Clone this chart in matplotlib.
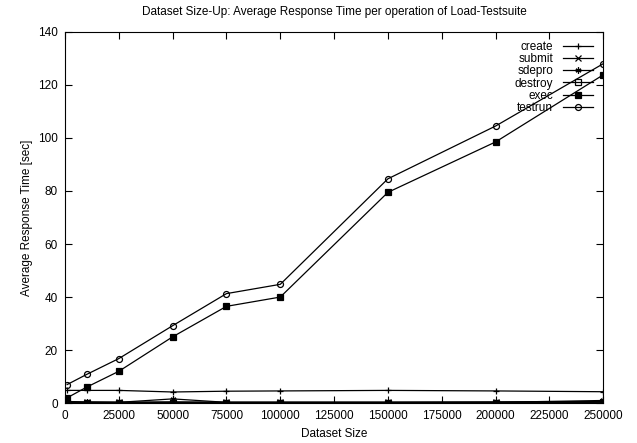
import matplotlib
matplotlib.use('Agg')
import matplotlib.pyplot as plt

# Dataset sizes (x values)
sizes = [1000, 10000, 25000, 50000, 75000, 100000, 150000, 200000, 250000]

# Average response times per operation [sec]
create = [4.8, 4.8, 4.8, 4.2, 4.5, 4.6, 4.8, 4.6, 4.3]
submit = [0.6, 0.5, 0.4, 0.5, 0.4, 0.4, 0.4, 0.5, 0.6]
sdepro = [0.3, 0.3, 0.3, 1.6, 0.3, 0.3, 0.3, 0.3, 1.0]
destroy = [0.2, 0.2, 0.2, 0.2, 0.2, 0.2, 0.2, 0.2, 0.3]
exec_times = [2.0, 6.0, 12.0, 25.0, 36.5, 40.0, 79.5, 98.5, 123.8]
testrun = [7.0, 10.8, 16.8, 29.2, 41.3, 44.8, 84.6, 104.5, 128.0]

series = [
    ('create', create, '+', 'black'),
    ('submit', submit, 'x', 'black'),
    ('sdepro', sdepro, (6, 2, 0), 'black'),
    ('destroy', destroy, 's', 'none'),
    ('exec', exec_times, 's', 'black'),
    ('testrun', testrun, 'o', 'none'),
]

plt.rcParams['font.family'] = ['Liberation Sans', 'DejaVu Sans']

fig = plt.figure(figsize=(6.37, 4.43), dpi=100)
ax = fig.add_axes([0.102, 0.090, 0.845, 0.838])

for name, vals, marker, fc in series:
    ax.plot(sizes, vals, color='black', linewidth=0.9, marker=marker,
            markersize=4.3, markerfacecolor=fc, markeredgecolor='black',
            markeredgewidth=0.9, label=name)

ax.set_xlim(0, 250000)
ax.set_ylim(0, 140)
ax.set_xticks(range(0, 250001, 25000))
ax.set_yticks(range(0, 141, 20))
ax.tick_params(direction='in', top=True, right=True, labelsize=8.5, length=5, pad=5)
ax.set_xlabel('Dataset Size', fontsize=8.5)
ax.set_ylabel('Average Response Time [sec]', fontsize=8.5)
ax.set_title('Dataset Size-Up: Average Response Time per operation of Load-Testsuite',
             fontsize=8.5, pad=12)

leg = ax.legend(loc='upper right', bbox_to_anchor=(0.995, 0.995), frameon=False,
                markerfirst=False, fontsize=8.5, handlelength=2.6,
                labelspacing=0.02, borderaxespad=0.2, handletextpad=0.8)
for t in leg.get_texts():
    t.set_ha('right')

fig.savefig('out.png', dpi=100)
